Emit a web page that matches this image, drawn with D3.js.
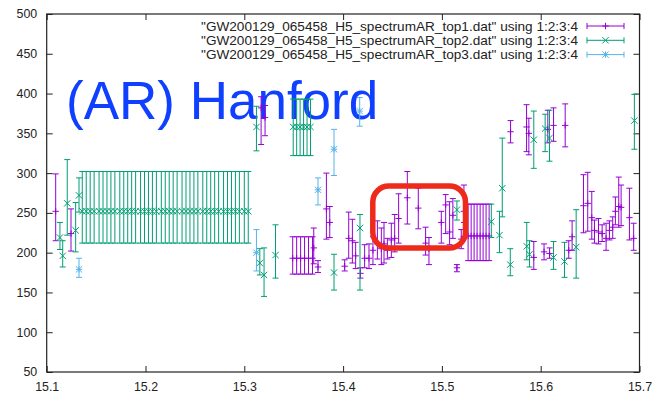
<!DOCTYPE html>
<html>
<head>
<meta charset="utf-8">
<script src="https://cdn.jsdelivr.net/npm/d3@7"></script>
<style>
  body { margin: 0; background: #fff; }
  svg { display: block; font-family: "Liberation Sans", Arial, sans-serif; }
</style>
</head>
<body>
<div class="canvas"></div>
<script>
// tick values
const xTicks = [15.1, 15.2, 15.3, 15.4, 15.5, 15.6, 15.7];
const yTicks = [50, 100, 150, 200, 250, 300, 350, 400, 450, 500];

// legend labels
const seriesNames = [
  '"GW200129_065458_H5_spectrumAR_top1.dat" using 1:2:3:4',
  '"GW200129_065458_H5_spectrumAR_top2.dat" using 1:2:3:4',
  '"GW200129_065458_H5_spectrumAR_top3.dat" using 1:2:3:4'
];

// top1 : x, y, ylow, yhigh
const top1X = [15.1091, 15.1246, 15.317, 15.321,
  15.349, 15.353, 15.357, 15.361, 15.365, 15.369,
  15.3703, 15.3746, 15.3831, 15.3865, 15.4016, 15.4057, 15.4094, 15.4127, 15.4175, 15.4218,
  15.4262, 15.4302, 15.4347, 15.4387, 15.4414, 15.4448, 15.4488, 15.4522, 15.4562, 15.465,
  15.4761, 15.4835, 15.4869, 15.4994, 15.5038, 15.5078, 15.5111, 15.5152, 15.5196, 15.5223,
  15.5265, 15.5296, 15.5326, 15.5356, 15.5387, 15.5417, 15.5447, 15.5478,
  15.5695, 15.5857, 15.588, 15.593, 15.6034, 15.6072, 15.609, 15.613, 15.6248, 15.6284,
  15.6318, 15.6433, 15.6476, 15.6517, 15.6544, 15.6585, 15.6622, 15.6662, 15.6696, 15.6729,
  15.6756, 15.679, 15.6814, 15.6898, 15.6941];
const top1Y = [252, 224, 382, 370,
  193, 193, 193, 193, 193, 193,
  206, 182, 255, 238, 183, 218, 215, 196, 174, 193,
  193, 203, 211, 205, 211, 203, 216, 218, 243, 269,
  256, 212, 205, 238, 260, 226, 247, 181, 217, 252,
  221, 221, 221, 221, 221, 221, 221, 221,
  352, 358, 350, 194, 201, 355, 199, 360, 360, 203,
  220, 259, 262, 244, 228, 226, 224, 218, 228, 232,
  252, 258, 257, 244, 218];
const top1Lo = [215, 202, 336, 347,
  173, 173, 173, 173, 173, 173,
  186, 175, 217, 219, 177, 193, 187, 180, 168, 181,
  180, 185, 192, 185, 187, 192, 194, 201, 212, 236,
  230, 197, 185, 212, 224, 210, 218, 176, 205, 238,
  190, 190, 190, 190, 190, 190, 190, 190,
  338, 327, 323, 179, 191, 338, 193, 340, 333, 193,
  203, 225, 227, 217, 212, 211, 214, 203, 216, 218,
  235, 232, 234, 216, 203];
const top1Hi = [299, 255, 396, 385,
  220, 220, 220, 220, 220, 220,
  231, 190, 300, 258, 191, 251, 242, 213, 181, 210,
  211, 220, 240, 231, 238, 218, 237, 248, 274, 302,
  281, 232, 219, 252, 273, 264, 268, 185, 229, 285,
  261, 261, 261, 261, 261, 261, 261, 261,
  366, 386, 369, 214, 211, 379, 206, 382, 387, 215,
  240, 298, 301, 277, 241, 243, 235, 237, 240, 245,
  270, 295, 285, 281, 237];

// top2
const top2X = [15.1134, 15.1162, 15.1208, 15.1293, 15.1327,
  15.136, 15.140, 15.144, 15.148, 15.153, 15.157, 15.161, 15.165, 15.169, 15.174,
  15.178, 15.182, 15.186, 15.190, 15.195, 15.199, 15.203, 15.207, 15.211, 15.216,
  15.220, 15.224, 15.228, 15.232, 15.237, 15.241, 15.245, 15.249, 15.253, 15.258,
  15.262, 15.266, 15.270, 15.274, 15.279, 15.283, 15.287, 15.291, 15.295, 15.300, 15.304,
  15.3123, 15.3157, 15.32, 15.3316,
  15.3495, 15.353, 15.3565, 15.360, 15.3635, 15.367,
  15.3908, 15.4171, 15.5152, 15.55, 15.5583, 15.5611, 15.5692, 15.5859, 15.5887, 15.593,
  15.6045, 15.6089, 15.613, 15.6241, 15.6359, 15.6948];
const top2Y = [219, 196, 262, 228, 272,
  252, 252, 252, 252, 252, 252, 252, 252, 252, 252,
  252, 252, 252, 252, 252, 252, 252, 252, 252, 252,
  252, 252, 252, 252, 252, 252, 252, 252, 252, 252,
  252, 252, 252, 252, 252, 252, 252, 252, 252, 252, 252,
  358, 187, 172, 197,
  358, 358, 358, 358, 358, 358,
  175, 231, 254, 239, 222, 281, 185, 208, 198, 342,
  356, 344, 194, 189, 207, 366];
const top2Lo = [204, 182, 222, 201, 251,
  212, 212, 212, 212, 212, 212, 212, 212, 212, 212,
  212, 212, 212, 212, 212, 212, 212, 212, 212, 212,
  212, 212, 212, 212, 212, 212, 212, 212, 212, 212,
  212, 212, 212, 212, 212, 212, 212, 212, 212, 212, 212,
  328, 172, 145, 168,
  322, 322, 322, 322, 322, 322,
  153, 153, 241, 219, 200, 245, 171, 191, 182, 306,
  327, 315, 179, 169, 168, 330];
const top2Hi = [238, 215, 317, 263, 294,
  302, 302, 302, 302, 302, 302, 302, 302, 302, 302,
  302, 302, 302, 302, 302, 302, 302, 302, 302, 302,
  302, 302, 302, 302, 302, 302, 302, 302, 302, 302,
  302, 302, 302, 302, 302, 302, 302, 302, 302, 302, 302,
  384, 205, 206, 235,
  393, 393, 393, 393, 393, 393,
  198, 248, 265, 261, 252, 344, 205, 238, 215, 378,
  374, 379, 214, 213, 254, 399];

// top3
const top3X = [15.1327, 15.3123, 15.3746, 15.3908, 15.4168];
const top3Y = [179, 200, 279, 330, 378];
const top3Lo = [169, 177, 260, 297, 359];
const top3Hi = [193, 229, 294, 355, 395];

const colors = ['#9400d3', '#009e73', '#56b4e9'];
const markers = ['plus', 'cross', 'star'];

const width = 652, height = 397;
const margins = {'top': 14, 'left': 46.7, 'bottom': 25, 'right': 12.5};

const svg = d3.select('.canvas')
  .append('svg')
  .attr('width', width)
  .attr('height', height);

const x = d3.scaleLinear()
  .domain([15.1, 15.7])
  .range([margins.left, width - margins.right]);
const y = d3.scaleLinear()
  .domain([50, 500])
  .range([height - margins.bottom, margins.top]);

// axes, gnuplot style ticks pointing inward on all four sides
const axisFont = g => g.selectAll('text')
  .attr('font-size', '12.4px')
  .attr('fill', '#222')
  .attr('font-family', '"Liberation Sans", Arial, sans-serif');

svg.append('g')
  .attr('transform', 'translate(0,' + y(50) + ')')
  .call(d3.axisBottom(x).tickValues(xTicks).tickSizeInner(-6).tickSizeOuter(0).tickPadding(10).tickFormat(d3.format('.1f')))
  .call(axisFont);
svg.append('g')
  .attr('transform', 'translate(0,' + y(500) + ')')
  .call(d3.axisTop(x).tickValues(xTicks).tickSizeInner(-6).tickSizeOuter(0).tickFormat(''));
svg.append('g')
  .attr('transform', 'translate(' + x(15.1) + ',0)')
  .call(d3.axisLeft(y).tickValues(yTicks).tickSizeInner(-6).tickSizeOuter(0).tickPadding(9.5))
  .call(axisFont);
svg.append('g')
  .attr('transform', 'translate(' + x(15.7) + ',0)')
  .call(d3.axisRight(y).tickValues(yTicks).tickSizeInner(-6).tickSizeOuter(0).tickFormat(''));

svg.selectAll('.domain').remove();
svg.selectAll('.tick line').attr('stroke', '#222');

// border
svg.append('rect')
  .attr('x', x(15.1))
  .attr('y', y(500))
  .attr('width', x(15.7) - x(15.1))
  .attr('height', y(50) - y(500))
  .attr('fill', 'none')
  .attr('stroke', '#222')
  .attr('stroke-width', 1.2);

// title
svg.append('text')
  .attr('x', 66)
  .attr('y', 118.5)
  .attr('font-size', '53px')
  .attr('fill', '#1040ff')
  .text('(AR) Hanford');

const cap = 3, ms = 3.2;

function drawMarker(g, kind, cx, cy, color) {
  const segs = [];
  if (kind === 'plus' || kind === 'star') {
    segs.push([cx - ms, cy, cx + ms, cy], [cx, cy - ms, cx, cy + ms]);
  }
  if (kind === 'cross' || kind === 'star') {
    segs.push([cx - ms, cy - ms, cx + ms, cy + ms], [cx - ms, cy + ms, cx + ms, cy - ms]);
  }
  segs.forEach(s => g.append('line')
    .attr('x1', s[0]).attr('y1', s[1]).attr('x2', s[2]).attr('y2', s[3])
    .attr('stroke', color).attr('stroke-width', 1));
}

function drawSeries(xs, ys, lo, hi, color, kind) {
  const g = svg.append('g');
  const data = xs.map((d, i) => ({x: d, y: ys[i], lo: lo[i], hi: hi[i]}));
  data.forEach(d => {
    const px = x(d.x);
    g.append('line')
      .attr('x1', px).attr('x2', px)
      .attr('y1', y(d.lo)).attr('y2', y(d.hi))
      .attr('stroke', color).attr('stroke-width', 1);
    [d.lo, d.hi].forEach(v => g.append('line')
      .attr('x1', px - cap).attr('x2', px + cap)
      .attr('y1', y(v)).attr('y2', y(v))
      .attr('stroke', color).attr('stroke-width', 1));
    drawMarker(g, kind, px, y(d.y), color);
  });
}

drawSeries(top1X, top1Y, top1Lo, top1Hi, colors[0], markers[0]);
drawSeries(top2X, top2Y, top2Lo, top2Hi, colors[1], markers[1]);
drawSeries(top3X, top3Y, top3Lo, top3Hi, colors[2], markers[2]);

// legend
const legend = svg.append('g');
seriesNames.forEach((name, i) => {
  const ly = 26 + i * 14.3;
  legend.append('text')
    .attr('x', 578)
    .attr('y', ly)
    .attr('dy', '0.35em')
    .attr('text-anchor', 'end')
    .attr('font-size', '13.6px')
    .attr('fill', '#222')
    .text(name);
  const x0 = 587, x1 = 624;
  legend.append('line').attr('x1', x0).attr('x2', x1).attr('y1', ly).attr('y2', ly)
    .attr('stroke', colors[i]).attr('stroke-width', 1);
  [x0, x1].forEach(xx => legend.append('line')
    .attr('x1', xx).attr('x2', xx).attr('y1', ly - cap).attr('y2', ly + cap)
    .attr('stroke', colors[i]).attr('stroke-width', 1));
  drawMarker(legend, markers[i], (x0 + x1) / 2, ly, colors[i]);
});

// red highlight box
svg.append('rect')
  .attr('x', 372.8)
  .attr('y', 186)
  .attr('width', 92.7)
  .attr('height', 62)
  .attr('rx', 16)
  .attr('fill', 'none')
  .attr('stroke', '#ee2a1a')
  .attr('stroke-width', 5.5);
</script>
</body>
</html>
